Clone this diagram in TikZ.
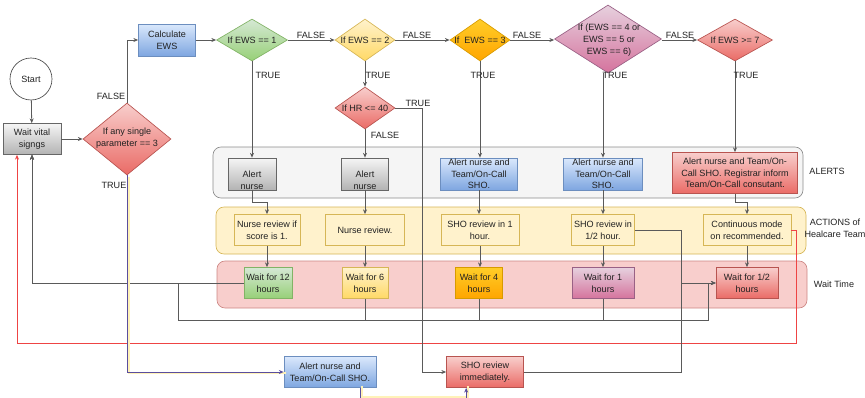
\documentclass[tikz,border=0pt]{standalone}
\usepackage{fontspec}
\setmainfont{Liberation Sans}
\usetikzlibrary{shapes.geometric,arrows.meta}

% fills and strokes
\definecolor{gTop}{HTML}{F5F5F5}\definecolor{gBot}{HTML}{B3B3B3}\definecolor{gLine}{HTML}{666666}
\definecolor{bTop}{HTML}{DAE8FC}\definecolor{bBot}{HTML}{7EA6E0}\definecolor{bLine}{HTML}{6C8EBF}
\definecolor{rTop}{HTML}{F8CECC}\definecolor{rBot}{HTML}{EA6B66}\definecolor{rLine}{HTML}{B85450}
\definecolor{grTop}{HTML}{D5E8D4}\definecolor{grBot}{HTML}{97D077}\definecolor{grLine}{HTML}{82B366}
\definecolor{yTop}{HTML}{FFF2CC}\definecolor{yBot}{HTML}{FFD966}\definecolor{yLine}{HTML}{D6B656}
\definecolor{oTop}{HTML}{FFCD28}\definecolor{oBot}{HTML}{FFA500}\definecolor{oLine}{HTML}{D79B00}
\definecolor{pTop}{HTML}{E6D0DE}\definecolor{pBot}{HTML}{D5739D}\definecolor{pLine}{HTML}{996185}
\definecolor{edgeC}{HTML}{5A5A5A}
\definecolor{loopRed}{HTML}{EE4444}
\definecolor{trueC}{HTML}{5A4E9E}
\definecolor{glowC}{HTML}{FFF2B8}
\definecolor{txtC}{HTML}{222222}

\begin{document}
\begin{tikzpicture}[x=0.75pt,y=-0.75pt,
  font=\fontsize{6.8}{8.8}\selectfont,
  sz/.style 2 args={minimum width=#1*0.75pt,minimum height=#2*0.75pt},
  outlined/.style={draw,line width=0.5pt,inner sep=0pt},
  box/.style={outlined,rectangle},
  dia/.style={outlined,diamond},
  grp/.style={draw,rectangle,rounded corners=6pt,line width=0.5pt,inner sep=0pt},
  fgray/.style={top color=gTop,bottom color=gBot,draw=gLine},
  fblue/.style={top color=bTop,bottom color=bBot,draw=bLine},
  fred/.style={top color=rTop,bottom color=rBot,draw=rLine},
  fgreen/.style={top color=grTop,bottom color=grBot,draw=grLine},
  fyellow/.style={top color=yTop,bottom color=yBot,draw=yLine},
  forange/.style={top color=oTop,bottom color=oBot,draw=oLine},
  fpurple/.style={top color=pTop,bottom color=pBot,draw=pLine},
  fnote/.style={fill=yTop,draw=yLine},
  txt/.style={align=center,inner sep=0pt,text=txtC},
  lab/.style={inner sep=0pt,text=txtC},
  edge/.style={draw=edgeC,line width=0.6pt},
  arr/.style={edge,-{Stealth[length=3.6pt,width=3pt]}},
  redarr/.style={draw=loopRed,line width=0.7pt,-{Stealth[length=3.6pt,width=3pt]}},
  truearr/.style={draw=trueC,line width=0.55pt,-{Stealth[length=3.6pt,width=3pt]}},
  glow/.style={draw=glowC,line width=1.3pt,transform canvas={xshift=1.4pt,yshift=-0.9pt}},
  glowup/.style={draw=glowC,line width=1.3pt,transform canvas={xshift=1.4pt,yshift=1.6pt}}
]
\useasboundingbox (0,0) rectangle (865,397);

% lanes
\node[grp,fill=gTop,draw=black!45,sz={590}{51}] (gAlerts) at (508,172.5) {};
\node[grp,fill=yTop,draw=yLine,sz={590}{47}] (gActions) at (511,230.5) {};
\node[grp,fill=rTop,draw=rLine!70,sz={590}{47}] (gWait) at (512,284.5) {};
\node[lab] (lAlerts) at (827,171) {ALERTS};
\node[txt] (lActions) at (835,228) {ACTIONS of\\Healcare Team};
\node[lab] (lWait) at (834,284) {Wait Time};

% start and entry
\node[draw=black!70,line width=0.5pt,circle,fill=white,minimum size=42*0.75pt,inner sep=0pt] (start) at (31,79) {};
\node[txt] (tStart) at (start) {Start};
\node[box,fgray,sz={58}{31}] (wait) at (32,139) {};
\node[txt] (tWait) at (wait) {Wait vital\\signgs};
\node[dia,fred,sz={88}{72}] (dp) at (127,139) {};
\node[txt] (tDp) at (127,138) {If any single\\parameter == 3};
\node[box,fblue,sz={57}{32}] (calc) at (167,40) {};
\node[txt] (tCalc) at (calc) {Calculate\\EWS};

% decision chain
\node[dia,fgreen,sz={71}{42}] (d1) at (252,40) {};
\node[txt] (tD1) at (d1) {If EWS == 1};
\node[dia,fyellow,sz={60}{42}] (d2) at (365,40) {};
\node[txt] (tD2) at (d2) {If EWS == 2};
\node[dia,forange,sz={60}{42}] (d3) at (480,40) {};
\node[txt] (tD3) at (d3) {If\ \ EWS == 3};
\node[dia,fpurple,sz={107}{68}] (d4) at (608,39) {};
\node[txt] (tD4) at (609,40) {If (EWS == 4 or\\EWS == 5 or\\EWS == 6)};
\node[dia,fred,sz={75}{42}] (d7) at (735,40) {};
\node[txt] (tD7) at (d7) {If EWS >= 7};
\node[dia,fred,sz={60}{42}] (dhr) at (365,108) {};
\node[txt] (tDhr) at (dhr) {If HR <= 40};

% alerts
\node[box,fgray,sz={48}{32}] (a1) at (252,174) {};
\node[txt] (tA1) at (252,180) {Alert\\nurse};
\node[box,fgray,sz={47}{32}] (a2) at (365,174) {};
\node[txt] (tA2) at (365,180) {Alert\\nurse};
\node[box,fblue,sz={77}{32}] (a3) at (479,174) {};
\node[txt] (tA3) at (a3) {Alert nurse and\\Team/On-Call\\SHO.};
\node[box,fblue,sz={79}{32}] (a4) at (603,174) {};
\node[txt] (tA4) at (a4) {Alert nurse and\\Team/On-Call\\SHO.};
\node[box,fred,sz={125}{41}] (a7) at (735,173) {};
\node[txt] (tA7) at (a7) {Alert nurse and Team/On-\\Call SHO. Registrar inform\\Team/On-Call consutant.};

% actions
\node[box,fnote,sz={66}{31}] (r1) at (267,230) {};
\node[txt] (tR1) at (r1) {Nurse review if\\score is 1.};
\node[box,fnote,sz={79}{31}] (r2) at (365,230) {};
\node[txt] (tR2) at (r2) {Nurse review.};
\node[box,fnote,sz={78}{31}] (r3) at (480,230) {};
\node[txt] (tR3) at (r3) {SHO review in 1\\hour.};
\node[box,fnote,sz={63}{31}] (r4) at (603,230) {};
\node[txt] (tR4) at (r4) {SHO review in\\1/2 hour.};
\node[box,fnote,sz={88}{31}] (r7) at (747,230) {};
\node[txt] (tR7) at (r7) {Continuous mode\\on recommended.};

% waits
\node[box,fgreen,sz={48}{31}] (w1) at (268,283) {};
\node[txt] (tW1) at (w1) {Wait for 12\\hours};
\node[box,fyellow,sz={46}{31}] (w2) at (365,283) {};
\node[txt] (tW2) at (w2) {Wait for 6\\hours};
\node[box,forange,sz={47}{31}] (w3) at (479,283) {};
\node[txt] (tW3) at (w3) {Wait for 4\\hours};
\node[box,fpurple,sz={62}{31}] (w4) at (603,283) {};
\node[txt] (tW4) at (w4) {Wait for 1\\hours};
\node[box,fred,sz={62}{31}] (w7) at (747,283) {};
\node[txt] (tW7) at (w7) {Wait for 1/2\\hours};

% escalations
\node[box,fblue,sz={92}{31}] (bs) at (330,372) {};
\node[txt] (tBs) at (bs) {Alert nurse and\\Team/On-Call SHO.};
\node[box,fred,sz={77}{31}] (bi) at (485,372) {};
\node[txt] (tBi) at (bi) {SHO review\\immediately.};

% routing points
\coordinate (jL) at (178,320);
\coordinate (jU) at (178,283);
\coordinate (jR) at (708,320);
\coordinate (jRU) at (708,283);
\coordinate (jV) at (681,283);
\coordinate (hrK) at (422,108);
\coordinate (loopR) at (796,230);
\coordinate (loopB) at (796,343);

% main flow
\draw[arr] (start) -- (wait);
\draw[arr] (wait) -- (dp);
\draw[arr] (dp.north) |- (calc.west);
\draw[arr] (calc) -- (d1);
\draw[arr] (d1) -- (d2);
\draw[arr] (d2) -- (d3);
\draw[arr] (d3.east) -- (d3.east -| d4.west);
\draw[arr] (d4.east |- d7.west) -- (d7.west);
\draw[arr] (d1) -- (a1);
\draw[arr] (d2) -- (dhr);
\draw[arr] (dhr) -- (a2);
\draw[arr] (d3.south) -- (d3.south |- a3.north);
\draw[arr] (d4.south -| a4.north) -- (a4.north);
\draw[arr] (d7) -- (a7);

% alerts to actions
\draw[arr] (a1.south) -- ++(0,12) -| (r1.north);
\draw[arr] (a2) -- (r2);
\draw[arr] (a3.south) -- (a3.south |- r3.north);
\draw[arr] (a4) -- (r4);
\draw[arr] (a7.south) -- ++(0,9) -| (r7.north);

% actions to waits
\draw[arr] (r1.south) -- (r1.south |- w1.north);
\draw[arr] (r2) -- (w2);
\draw[arr] (r3.south) -- (r3.south |- w3.north);
\draw[arr] (r4) -- (w4);
\draw[arr] (r7) -- (w7);

% loops back to the vital signs
\draw[arr] (w1.west) -| (wait.south);
\draw[arr] (w2.south) |- (jL) -- (jU) -| (wait.south);
\draw[arr] (w3.south) |- (jL) -- (jU) -| (wait.south);
\draw[arr] (w4.south) |- (jL) -- (jU) -| (wait.south);
\draw[arr] (w2.south) |- (jR) -- (jRU) -- (w7.west);
\draw[redarr] (r7.east) -- (loopR) -- (loopB) -| ([xshift=-11.25pt]wait.south);

% urgent branches
\draw[arr] (dhr.east) -- (hrK) |- (bi.west);
\draw[arr] (r4.east) -| (jV) -- (w7.west);
\draw[arr] (bi.east) -| (jV) -- (w7.west);
\draw[glow] (dp.south) |- (bs.west);
\draw[truearr] (dp.south) |- (bs.west);
\draw[glowup] ([xshift=-12pt]bs.south east) -- ++(0,11) -| ([xshift=15pt]bi.south west);
\draw[truearr] ([xshift=-12pt]bs.south east) -- ++(0,11) -| ([xshift=15pt]bi.south west);

% branch labels
\node[lab] (fDp) at (111,96) {FALSE};
\node[lab] (tuDp) at (114,185) {TRUE};
\node[lab] (f1) at (311,35) {FALSE};
\node[lab] (f2) at (417,35) {FALSE};
\node[lab] (f3) at (527,35) {FALSE};
\node[lab] (f4) at (680,35) {FALSE};
\node[lab] (tu1) at (268,75) {TRUE};
\node[lab] (tu2) at (378,75) {TRUE};
\node[lab] (tu3) at (483,75) {TRUE};
\node[lab] (tu4) at (615,75) {TRUE};
\node[lab] (tu7) at (746,75) {TRUE};
\node[lab] (tuHr) at (418,103) {TRUE};
\node[lab] (fHr) at (385,135) {FALSE};
\end{tikzpicture}
\end{document}
